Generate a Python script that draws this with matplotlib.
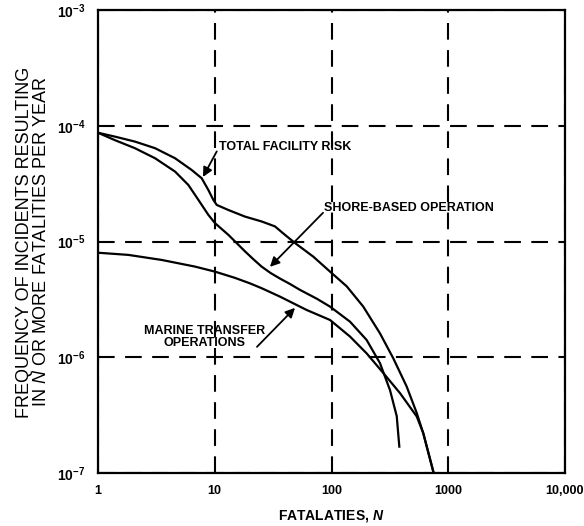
import matplotlib
matplotlib.use('Agg')
import matplotlib.pyplot as plt
from matplotlib import font_manager

plt.rcParams['font.family'] = ['Liberation Sans', 'DejaVu Sans']
plt.rcParams['mathtext.fontset'] = 'custom'
plt.rcParams['mathtext.rm'] = 'Liberation Sans'
plt.rcParams['mathtext.it'] = 'Liberation Sans:italic'
plt.rcParams['mathtext.bf'] = 'Liberation Sans:bold'
plt.rcParams['mathtext.bfit'] = 'Liberation Sans:italic:bold'

# values (N, frequency per year)
total_n = [1, 1.40, 2.07, 3.08, 4.57, 6.34, 7.73, 8.81, 9.72, 10.4, 13.1, 18.2,
           25.2, 32.8, 40.0, 48.7, 69.8, 97, 135, 187, 260, 338, 440, 537, 611, 750]
total_f = [8.7e-5, 8.05e-5, 7.3e-5, 6.4e-5, 5.24e-5, 4.15e-5, 3.52e-5, 2.79e-5,
           2.29e-5, 2.07e-5, 1.87e-5, 1.64e-5, 1.49e-5, 1.35e-5, 1.14e-5, 9.7e-6,
           7.4e-6, 5.5e-6, 4.1e-6, 2.74e-6, 1.61e-6, 9.8e-7, 5.6e-7, 3.3e-7,
           2.2e-7, 1.0e-7]

shore_n = [1, 1.40, 2.07, 3.08, 4.57, 5.94, 7.24, 8.81, 10.05, 13.1, 18.2, 21.5,
           25.2, 30, 36, 44, 53.7, 75, 97, 144, 200, 260, 317, 362, 381]
shore_f = [8.7e-5, 7.5e-5, 6.4e-5, 5.24e-5, 4.02e-5, 3.08e-5, 2.29e-5, 1.70e-5,
           1.44e-5, 1.14e-5, 8.2e-6, 7.0e-6, 6.07e-6, 5.35e-6, 4.8e-6, 4.3e-6,
           3.82e-6, 3.2e-6, 2.74e-6, 2.03e-6, 1.41e-6, 8.9e-7, 5.2e-7, 3.1e-7,
           1.69e-7]

marine_n = [1, 1.82, 3.51, 6.77, 10.05, 14.9, 20, 25.2, 36.2, 61.3, 97, 144, 200,
            278, 386, 537, 611, 750]
marine_f = [8.0e-6, 7.66e-6, 6.93e-6, 6.07e-6, 5.49e-6, 4.85e-6, 4.35e-6, 3.95e-6,
            3.34e-6, 2.56e-6, 2.1e-6, 1.51e-6, 1.08e-6, 7.3e-7, 4.9e-7, 3.08e-7,
            2.21e-7, 1.0e-7]

x_ticks = [1, 10, 100, 1000, 10000]
x_labels = ['1', '10', '100', '1000', '10,000']
y_ticks = [1e-7, 1e-6, 1e-5, 1e-4, 1e-3]
y_labels = [r'$\mathbf{10^{-7}}$', r'$\mathbf{10^{-6}}$', r'$\mathbf{10^{-5}}$',
            r'$\mathbf{10^{-4}}$', r'$\mathbf{10^{-3}}$']

fig = plt.figure(figsize=(5.84, 5.26), dpi=100)
ax = fig.add_axes([98 / 584, 1 - 473 / 526, (565 - 98) / 584, (473 - 10) / 526])

for n, f in [(total_n, total_f), (shore_n, shore_f), (marine_n, marine_f)]:
    ax.plot(n, f, color='black', lw=1.6, solid_joinstyle='round')

ax.set_xscale('log')
ax.set_yscale('log')
ax.set_xlim(1, 10000)
ax.set_ylim(1e-7, 1e-3)
ax.set_xticks(x_ticks)
ax.set_xticklabels(x_labels, fontweight='bold', fontsize=9)
ax.set_yticks(y_ticks)
ax.set_yticklabels(y_labels, fontsize=10)
ax.minorticks_off()
ax.tick_params(length=0, pad=9)

ax.grid(True, which='major', color='black', lw=1.5, linestyle=(0, (8, 5)))
for s in ax.spines.values():
    s.set_linewidth(1.6)

ax.set_xlabel(r'FATALATIES, $\mathbfit{N}$', fontweight='bold', fontsize=10, va='center')
ax.xaxis.set_label_coords(0.5, -0.093)

# condensed face for the y label if it is there
names = {f.name for f in font_manager.fontManager.ttflist}
if 'Liberation Sans Narrow' in names:
    yl_family, yl_size = ['Liberation Sans Narrow', 'DejaVu Sans'], 15.5
else:
    yl_family, yl_size = ['Liberation Sans', 'DejaVu Sans'], 13
fig.text(33 / 584, 1 - 242 / 526,
         'FREQUENCY OF INCIDENTS RESULTING\n'
         r'IN $\mathit{N}$ OR MORE FATALITIES PER YEAR',
         family=yl_family, fontsize=yl_size, rotation=90, ha='center', va='center',
         multialignment='center', linespacing=0.95)

lab = dict(fontsize=9, fontweight='bold', va='center')
arrow = dict(arrowstyle='-|>', color='black', lw=1.3, mutation_scale=14,
             shrinkA=0, shrinkB=0)

ax.text(10.9, 6.56e-5, 'TOTAL FACILITY RISK', ha='left', **lab)
ax.annotate('', xy=(7.93, 3.61e-5), xytext=(10.4, 6.0e-5), arrowprops=arrow)

ax.text(86, 1.95e-5, 'SHORE-BASED OPERATION', ha='left', **lab)
ax.annotate('', xy=(29.7, 6.04e-6), xytext=(84.6, 1.77e-5), arrowprops=arrow)

ax.text(8.25, 1.49e-6, 'MARINE TRANSFER\nOPERATIONS', ha='center',
        multialignment='center', linespacing=1.0, **lab)
ax.annotate('', xy=(48.7, 2.67e-6), xytext=(23.0, 1.23e-6), arrowprops=arrow)

fig.savefig('out.png', dpi=100)
